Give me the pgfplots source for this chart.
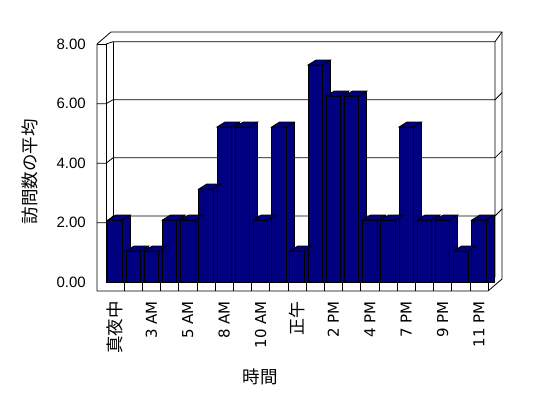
\documentclass[border=0pt]{standalone}
\usepackage{pgfplots}
\usepackage{pgfplotstable}
\pgfplotsset{compat=1.18}
\usepackage{fontspec}
\setmainfont{Liberation Sans}
\newfontfamily\cjk{Noto Sans CJK JP}
\newfontfamily\dejavu{DejaVu Sans}
\definecolor{barnavy}{RGB}{0,0,128}
\pgfdeclareplotmark{topface}{%
 \pgfpathmoveto{\pgfqpoint{-7.2pt}{0pt}}%
 \pgfpathlineto{\pgfqpoint{7.2pt}{0pt}}%
 \pgfpathlineto{\pgfqpoint{15.2pt}{5pt}}%
 \pgfpathlineto{\pgfqpoint{0.8pt}{5pt}}%
 \pgfpathclose
 \pgfusepathqfillstroke}
\pgfplotstableread{
x v
0 2
1 1
2 1
3 2
4 2
5 3
6 5
7 5
8 2
9 5
10 1
11 7
12 6
13 6
14 2
15 2
16 5
17 2
18 2
19 1
20 2
}\datatable
\begin{document}
\begin{tikzpicture}
\begin{axis}[
  at={(0,0)}, anchor=south west,
  x=18.2pt, y=31pt,
  xmin=-0.989, xmax=21.264, ymin=-0.290, ymax=8.065,
  clip=false,
  axis line style={draw=none},
  major tick length=0pt,
  tick style={draw=none},
  ytick={0,1.913,3.829,5.748,7.677},
  yticklabels={0.00,2.00,4.00,6.00,8.00},
  xtick={0,2,...,20},
  xticklabels={{\cjk\fontsize{17.5}{20}\selectfont 真夜中},3 AM,5 AM,8 AM,10 AM,{\cjk\fontsize{17}{20}\selectfont 正午},2 PM,4 PM,7 PM,9 PM,11 PM},
  yticklabel style={font=\fontsize{15}{18}\selectfont, anchor=east, inner sep=0pt, xshift=-11pt},
  xticklabel style={font=\dejavu\fontsize{15}{18}\selectfont, rotate=90, anchor=east, inner sep=0pt, xshift=-10pt},
  every axis y label/.style={at={(axis cs:-4.67,3.55)}, rotate=90, anchor=center},
  every axis x label/.style={at={(axis cs:7.97,-3.065)}, anchor=center},
  ylabel={\cjk\fontsize{17.5}{20}\selectfont 訪問数の平均},
  xlabel={\cjk\fontsize{17.5}{20}\selectfont 時間},
]
% walls
\addplot[black, line width=0.8pt, mark=none] coordinates {(-0.989,7.677) (-0.220,8.065) (21.264,8.065) (21.264,0.097) (20.495,-0.290) (-0.989,-0.290) (-0.989,7.677)};
\addplot[black, line width=0.8pt, mark=none] coordinates {(-0.989,7.677) (-0.495,7.677) (-0.495,0) (20.495,0) (20.495,-0.290)};
\addplot[black, line width=0.8pt, mark=none] coordinates {(-0.495,7.677) (-0.110,7.752) (20.879,7.752) (21.264,8.065)};
\addplot[black, line width=0.8pt, mark=none] coordinates {(-0.110,7.752) (-0.110,0.161)};
\addplot[black, line width=0.8pt, mark=none] coordinates {(20.879,7.752) (20.879,0.161) (20.495,0)};
% gridlines
\addplot[black, line width=0.8pt, mark=none] coordinates {(-0.989,1.913) (-0.495,1.913) (-0.110,2.129) (20.879,2.129) (21.264,2.355)};
\addplot[black, line width=0.8pt, mark=none] coordinates {(-0.989,3.829) (-0.495,3.829) (-0.110,4.006) (20.879,4.006) (21.264,4.232)};
\addplot[black, line width=0.8pt, mark=none] coordinates {(-0.989,5.748) (-0.495,5.748) (-0.110,5.881) (20.879,5.881) (21.264,6.107)};
% floor ticks
\addplot[black, line width=0.8pt, quiver={u=0,v=-0.290}, mark=none] coordinates {(0.5,0) (1.5,0) (2.5,0) (3.5,0) (4.5,0) (5.5,0) (6.5,0) (7.5,0) (8.5,0) (9.5,0) (10.5,0) (11.5,0) (12.5,0) (13.5,0) (14.5,0) (15.5,0) (16.5,0) (17.5,0) (18.5,0) (19.5,0)};
% bars: side faces
\addplot[ybar, bar width=8pt, bar shift=11.2pt, fill=barnavy, draw=black, line width=0.8pt] table[x=x, y expr=\thisrow{v}+0.161] {\datatable};
% top faces
\addplot[only marks, mark=topface, mark options={fill=barnavy, draw=black, line width=0.8pt}] table[x=x, y=v] {\datatable};
% front faces
\addplot[ybar, bar width=14.4pt, bar shift=0pt, fill=barnavy, draw=black, line width=0.8pt] table[x=x, y=v] {\datatable};
\end{axis}
\pgfresetboundingbox
\path[use as bounding box] (-97pt,-107pt) rectangle (451pt,291pt);
\end{tikzpicture}
\end{document}
